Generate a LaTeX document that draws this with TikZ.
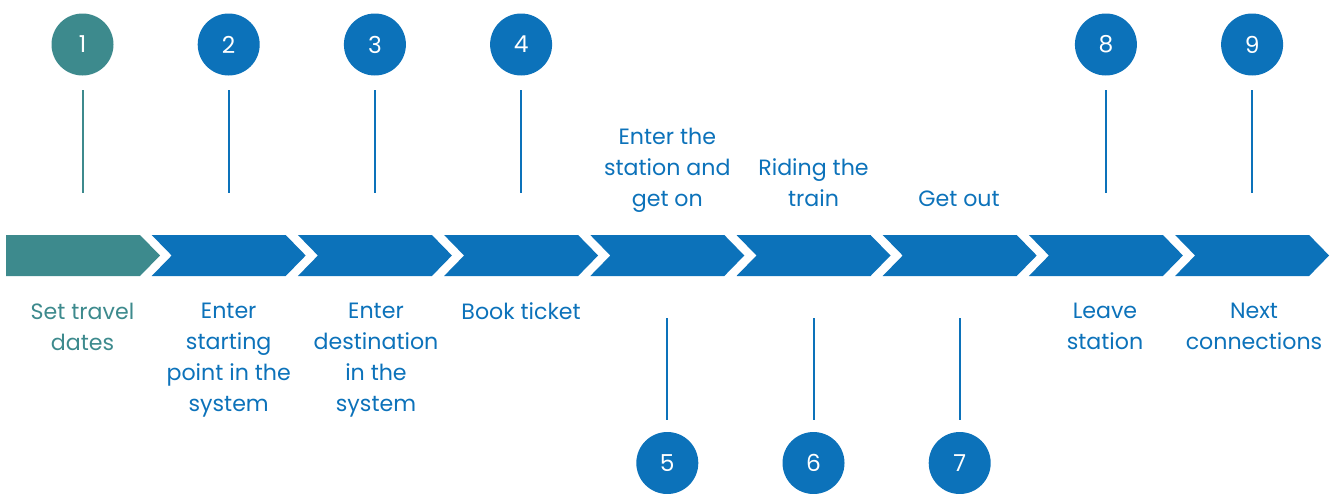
\documentclass[tikz,border=0pt]{standalone}
\usepackage{fontspec}
\setmainfont{Poppins}
\definecolor{tealc}{HTML}{3D8A8D}
\definecolor{bluec}{HTML}{0C72BA}
\begin{document}
\begin{tikzpicture}[x=0.75pt,y=-0.75pt,
  num/.style={circle,fill=#1,minimum size=46.5pt,inner sep=0pt,text=white,font=\fontsize{17.5}{20}\selectfont},
  lbl/.style={text=#1,align=center,inner sep=0pt,font=\fontsize{16.6}{23.25}\selectfont},
  stem/.style={draw=#1,line width=1.5pt},
  chev/.style={fill=#1}]
\useasboundingbox (0,0) rectangle (1337,493);
% chevrons
\fill[chev=tealc] (6,235) -- (140,235) -- (160,255.5) -- (140,276) -- (6,276) -- cycle;
\foreach \i in {1,...,8}{
  \pgfmathsetmacro\L{5.5+146.2*\i}
  \fill[chev=bluec] (\L,235) -- ++(134,0) -- ++(20,20.5) -- ++(-20,20.5) -- ++(-134,0) -- ++(20,-20.5) -- cycle;
}
% top circles
\node[num=tealc] (c1) at (82.5,44.5) {1};
\node[num=bluec] (c2) at (228.7,44.5) {2};
\node[num=bluec] (c3) at (374.9,44.5) {3};
\node[num=bluec] (c4) at (521.1,44.5) {4};
\node[num=bluec] (c8) at (1105.9,44.5) {8};
\node[num=bluec] (c9) at (1252.1,44.5) {9};
% bottom circles
\node[num=bluec] (c5) at (667.3,463) {5};
\node[num=bluec] (c6) at (813.5,463) {6};
\node[num=bluec] (c7) at (959.7,463) {7};
% stems
\foreach \n/\x/\c in {1/82.5/tealc,2/228.7/bluec,3/374.9/bluec,4/521.1/bluec,8/1105.9/bluec,9/1252.1/bluec}{
  \coordinate (a\n) at (\x,90);
  \coordinate (b\n) at (\x,193);
  \draw[stem=\c] (a\n) -- (b\n);
}
\foreach \n/\x in {5/667.3,6/813.5,7/959.7}{
  \coordinate (a\n) at (\x,318);
  \coordinate (b\n) at (\x,420);
  \draw[stem=bluec] (a\n) -- (b\n);
}
% labels below
\node[lbl=tealc,anchor=north] (l1) at (82.5,302.5) {Set travel\\dates};
\node[lbl=bluec,anchor=north] (l2) at (228.7,302.5) {Enter\\starting\\point in the\\system};
\node[lbl=bluec,anchor=north] (l3) at (376,302.5) {Enter\\destination\\in the\\system};
\node[lbl=bluec,anchor=north] (l4) at (521.1,302.5) {Book ticket};
\node[lbl=bluec,anchor=north] (l8) at (1105,302.5) {Leave\\station};
\node[lbl=bluec,anchor=north] (l9) at (1254,302.5) {Next\\connections};
% labels above
\node[lbl=bluec,anchor=south] (l5) at (667.3,212.5) {Enter the\\station and\\get on};
\node[lbl=bluec,anchor=south] (l6) at (813.5,212.5) {Riding the\\train\vphantom{g}};
\node[lbl=bluec,anchor=south] (l7) at (959,212.5) {Get out\vphantom{g}};
\end{tikzpicture}
\end{document}
